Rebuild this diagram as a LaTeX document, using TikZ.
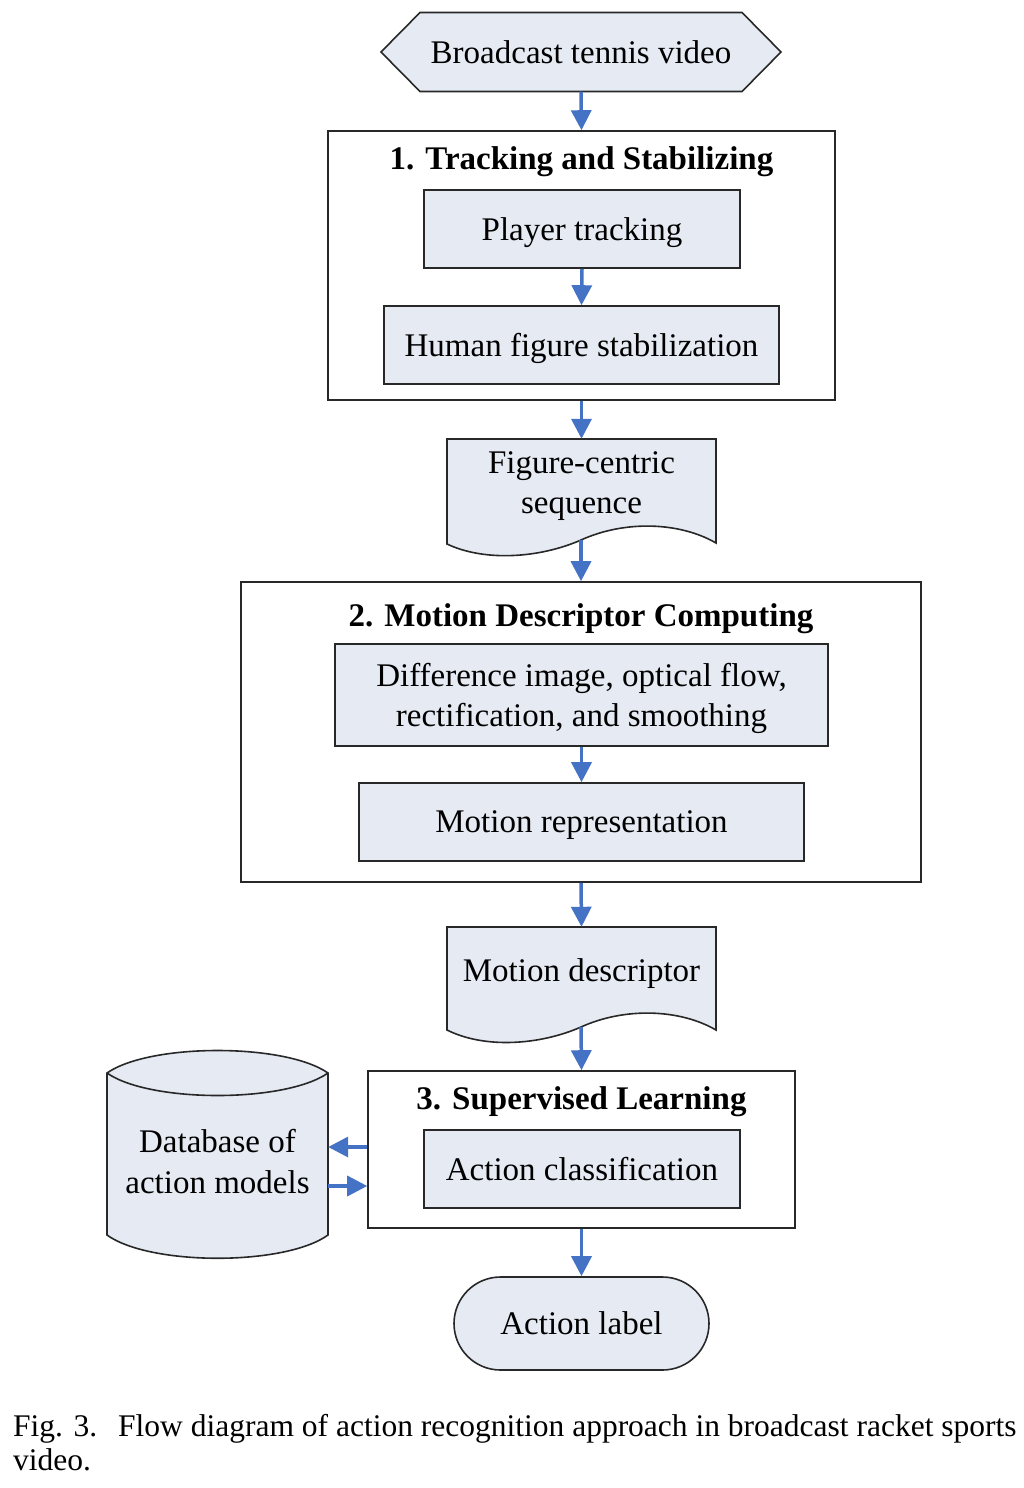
\documentclass[tikz,border=0pt]{standalone}
\usepackage{fontspec}
\setmainfont{Liberation Serif}
\usetikzlibrary{arrows.meta,shapes.misc}
\definecolor{boxfill}{RGB}{229,234,243}
\definecolor{arrowblue}{RGB}{68,114,196}
\definecolor{edgecol}{RGB}{40,40,40}
\begin{document}
\begin{tikzpicture}[x=1pt,y=-1pt,
  every node/.style={font=\fontsize{33}{40}\selectfont, inner sep=0pt, align=center, text depth=0pt},
  procbox/.style={draw=edgecol, line width=1.6pt, fill=boxfill, rectangle},
  groupbox/.style={draw=edgecol, line width=1.6pt, rectangle},
  shapeline/.style={draw=edgecol, line width=1.6pt, fill=boxfill},
  titletext/.style={font=\fontsize{33}{40}\selectfont\bfseries},
  flow/.style={draw=arrowblue, line width=3.5pt, -{Triangle[width=20pt,length=20pt]}},
  captext/.style={font=\fontsize{31.5}{36}\selectfont, anchor=base west},
  ]
\useasboundingbox (0,0) rectangle (1024,1488);

% --- Broadcast tennis video (hexagon)
\draw[shapeline] (381,52) -- (420,12.5) -- (742,12.5) -- (781,52) -- (742,91.5) -- (420,91.5) -- cycle;
\node[minimum width=400pt, minimum height=79pt] (hex) at (581,52) {Broadcast tennis video};

% --- Group 1
\node[groupbox, minimum width=507pt, minimum height=269pt] (b1) at (581.5,265.5) {};
\node[titletext] (t1) at (581.5,158) {1. Tracking and Stabilizing};
\node[procbox, minimum width=316pt, minimum height=78pt] (pt) at (582,229) {Player tracking};
\node[procbox, minimum width=395pt, minimum height=78pt] (hf) at (581.5,345) {Human figure stabilization};

% --- Figure-centric sequence (document)
\draw[shapeline] (447,439) -- (716,439) -- (716,543)
  .. controls (680,522) and (625,520) .. (581,540)
  .. controls (540,558) and (485,562) .. (447,544) -- cycle;
\node[minimum width=269pt, minimum height=88pt, font=\fontsize{33}{40}\selectfont] (fc) at (581.5,483) {Figure-centric\\sequence};
\coordinate (fcout) at (581,540);

% --- Group 2
\node[groupbox, minimum width=680pt, minimum height=300pt] (b2) at (581,732) {};
\node[titletext] (t2) at (581,615) {2. Motion Descriptor Computing};
\node[procbox, minimum width=493pt, minimum height=102pt, font=\fontsize{33}{40}\selectfont] (di) at (581.5,695) {Difference image, optical flow,\\rectification, and smoothing};
\node[procbox, minimum width=445pt, minimum height=78pt] (mr) at (581.5,822) {Motion representation};

% --- Motion descriptor (document)
\draw[shapeline] (447,927) -- (716,927) -- (716,1030)
  .. controls (680,1009) and (625,1007) .. (581,1027)
  .. controls (540,1045) and (485,1049) .. (447,1030) -- cycle;
\node[minimum width=269pt, minimum height=86pt] (md) at (581.5,970) {Motion descriptor};
\coordinate (mdout) at (581,1027);

% --- Group 3
\node[groupbox, minimum width=427pt, minimum height=157pt] (b3) at (581.5,1149.5) {};
\node[titletext] (t3) at (581.5,1098) {3. Supervised Learning};
\node[procbox, minimum width=316pt, minimum height=78pt] (ac) at (582,1169) {Action classification};

% --- Database (cylinder)
\draw[shapeline] (107,1073) .. controls (150,1043) and (285,1043) .. (328,1073)
  -- (328,1235) .. controls (285,1266) and (150,1266) .. (107,1235) -- cycle;
\draw[edgecol, line width=1.6pt] (107,1073) .. controls (150,1103) and (285,1103) .. (328,1073);
\node[minimum width=221pt, minimum height=120pt, font=\fontsize{33}{41}\selectfont] (db) at (217.5,1161.5) {Database of\\action models};

% --- Action label (terminal)
\node[rounded rectangle, draw=edgecol, line width=1.6pt, fill=boxfill, minimum width=255pt, minimum height=93pt] (al) at (581.5,1323.5) {Action label};

% --- Connectors
\draw[flow] (hex.south) -- (b1.north);
\draw[flow] (pt.south) -- (hf.north);
\draw[flow] (b1.south) -- (fc.north);
\draw[flow] (fcout) -- (b2.north);
\draw[flow] (di.south) -- (mr.north);
\draw[flow] (b2.south) -- (md.north);
\draw[flow] (mdout) -- (b3.north);
\draw[flow] ([yshift=2.5pt]b3.west) -- ([yshift=2.5pt]b3.west -| db.east);
\draw[flow] ([yshift=-36.5pt]b3.west -| db.east) -- ([yshift=-36.5pt]b3.west);
\draw[flow] (b3.south) -- (al.north);

% --- Caption
\node[captext] (cap1) at (13,1436) {Fig. 3.};
\node[captext] (cap2) at (118,1436) {Flow diagram of action recognition approach in broadcast racket sports};
\node[captext] (cap3) at (13,1470) {video.};
\end{tikzpicture}
\end{document}
